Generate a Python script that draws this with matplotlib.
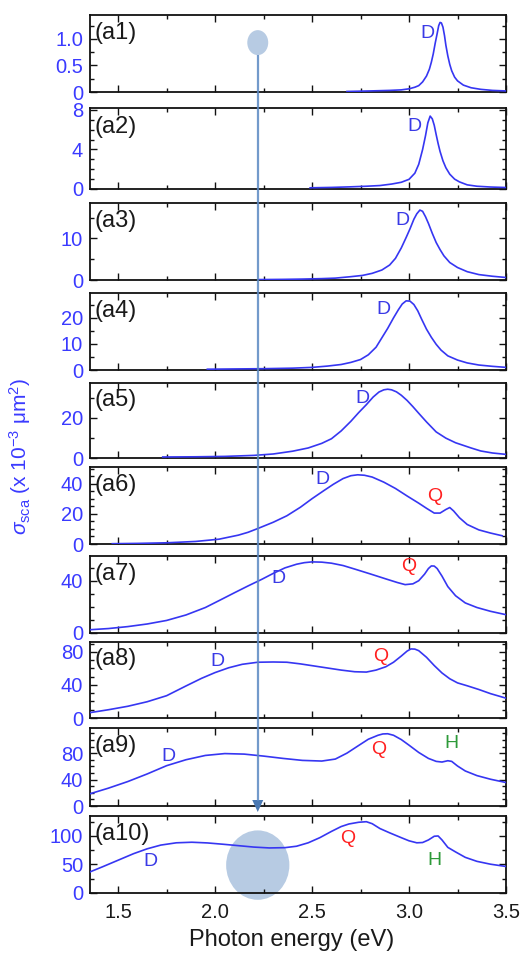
import matplotlib
matplotlib.use("Agg")
import matplotlib.pyplot as plt
from matplotlib.patches import Ellipse, Polygon
from matplotlib.ticker import MultipleLocator, FixedLocator

plt.rcParams['font.family'] = ['Liberation Sans', 'DejaVu Sans']
plt.rcParams['mathtext.fontset'] = 'custom'
plt.rcParams['mathtext.rm'] = 'Liberation Sans'
plt.rcParams['mathtext.it'] = 'Liberation Sans:italic'

# ---------------- data ----------------
a1_E = [2.68, 2.80, 2.90, 2.96, 3.00, 3.03, 3.05, 3.07, 3.09, 3.105, 3.115, 3.125, 3.135, 3.145, 3.153, 3.16, 3.167, 3.175, 3.183, 3.19, 3.20, 3.21, 3.22, 3.235, 3.25, 3.28, 3.32, 3.37, 3.43, 3.50]
a1_v = [0.01, 0.02, 0.03, 0.04, 0.06, 0.09, 0.12, 0.19, 0.30, 0.43, 0.56, 0.72, 0.92, 1.10, 1.25, 1.31, 1.30, 1.22, 1.06, 0.88, 0.68, 0.52, 0.40, 0.28, 0.21, 0.13, 0.08, 0.05, 0.03, 0.02]

a2_E = [2.49, 2.60, 2.70, 2.78, 2.85, 2.91, 2.96, 3.00, 3.03, 3.05, 3.07, 3.085, 3.097, 3.109, 3.12, 3.13, 3.14, 3.15, 3.16, 3.175, 3.19, 3.21, 3.235, 3.26, 3.30, 3.35, 3.42, 3.50]
a2_v = [0.12, 0.16, 0.22, 0.28, 0.35, 0.50, 0.68, 0.98, 1.6, 2.5, 4.0, 5.4, 6.7, 7.38, 7.1, 6.45, 5.5, 4.6, 3.8, 2.85, 2.15, 1.5, 1.0, 0.72, 0.42, 0.28, 0.2, 0.15]

a3_E = [2.23, 2.35, 2.45, 2.55, 2.62, 2.70, 2.76, 2.81, 2.86, 2.90, 2.93, 2.96, 2.985, 3.005, 3.025, 3.04, 3.056, 3.07, 3.085, 3.10, 3.12, 3.14, 3.16, 3.18, 3.21, 3.25, 3.30, 3.36, 3.43, 3.50]
a3_v = [0.1, 0.15, 0.22, 0.33, 0.45, 0.8, 1.1, 1.6, 2.4, 3.6, 5.2, 7.7, 10.2, 12.3, 14.6, 15.9, 16.8, 16.5, 15.2, 13.6, 11.2, 9.0, 7.3, 5.8, 4.2, 3.0, 2.0, 1.3, 0.9, 0.6]

a4_E = [1.96, 2.10, 2.25, 2.40, 2.50, 2.58, 2.65, 2.70, 2.75, 2.79, 2.83, 2.86, 2.89, 2.92, 2.945, 2.965, 2.985, 3.005, 3.025, 3.045, 3.065, 3.09, 3.115, 3.14, 3.165, 3.20, 3.25, 3.30, 3.36, 3.43, 3.50]
a4_v = [0.3, 0.4, 0.5, 0.7, 1.0, 1.5, 2.1, 2.9, 4.0, 5.8, 8.7, 12.3, 15.9, 19.9, 23.0, 25.2, 26.4, 26.3, 25.0, 22.6, 19.4, 15.6, 12.5, 9.8, 7.6, 5.4, 3.8, 2.7, 1.9, 1.4, 1.0]

a5_E = [1.73, 1.90, 2.05, 2.20, 2.30, 2.40, 2.48, 2.55, 2.60, 2.65, 2.70, 2.74, 2.78, 2.815, 2.845, 2.87, 2.89, 2.91, 2.935, 2.96, 2.99, 3.02, 3.05, 3.09, 3.14, 3.19, 3.24, 3.28, 3.32, 3.37, 3.43, 3.50]
a5_v = [0.5, 0.6, 0.8, 1.3, 2.0, 3.4, 5.0, 7.3, 9.6, 13.5, 18.3, 22.6, 26.6, 30.4, 32.9, 34.0, 34.3, 34.0, 33.0, 31.3, 28.7, 25.6, 22.3, 18.0, 13.0, 9.9, 7.6, 6.3, 5.0, 3.5, 2.5, 1.8]

a6_E = [1.47, 1.60, 1.75, 1.90, 2.02, 2.12, 2.17, 2.22, 2.30, 2.37, 2.44, 2.50, 2.56, 2.61, 2.66, 2.70, 2.735, 2.77, 2.81, 2.87, 2.93, 2.99, 3.05, 3.09, 3.13, 3.16, 3.19, 3.21, 3.23, 3.26, 3.30, 3.36, 3.42, 3.48]
a6_v = [0.2, 0.4, 0.8, 1.7, 3.2, 5.9, 7.8, 10.3, 14.5, 18.8, 24.5, 30.2, 35.5, 39.8, 43.6, 45.5, 46.1, 45.8, 44.6, 41.2, 37.0, 32.0, 27.2, 23.8, 20.6, 20.6, 23.0, 24.3, 22.0, 17.5, 13.0, 9.4, 7.3, 5.5]

a7_E = [1.355, 1.45, 1.55, 1.65, 1.75, 1.85, 1.95, 2.03, 2.10, 2.17, 2.24, 2.30, 2.36, 2.42, 2.46, 2.50, 2.55, 2.60, 2.66, 2.72, 2.80, 2.88, 2.94, 2.98, 3.02, 3.05, 3.08, 3.10, 3.115, 3.13, 3.145, 3.17, 3.20, 3.24, 3.29, 3.35, 3.42, 3.50]
a7_v = [2.5, 3.4, 4.9, 6.9, 9.6, 13.8, 19.5, 25.5, 30.8, 36.0, 41.0, 45.6, 49.8, 52.6, 53.8, 54.4, 54.2, 53.4, 51.6, 48.9, 45.2, 41.4, 38.6, 37.0, 37.6, 40.0, 45.0, 49.3, 51.3, 51.2, 49.3, 43.5, 35.5, 28.5, 23.0, 19.5, 16.6, 14.0]

a8_E = [1.355, 1.45, 1.55, 1.65, 1.75, 1.85, 1.93, 2.00, 2.07, 2.14, 2.22, 2.30, 2.37, 2.44, 2.51, 2.58, 2.65, 2.72, 2.78, 2.83, 2.88, 2.92, 2.96, 2.99, 3.01, 3.03, 3.05, 3.09, 3.13, 3.17, 3.21, 3.25, 3.30, 3.36, 3.42, 3.50]
a8_v = [6.5, 10.0, 14.2, 19.7, 27.0, 38.8, 48.0, 55.0, 60.8, 65.0, 67.5, 67.8, 67.5, 65.5, 63.0, 60.5, 58.0, 56.0, 55.6, 58.0, 62.0, 67.5, 75.0, 81.0, 83.6, 83.4, 81.5, 73.5, 63.5, 54.5, 47.5, 42.5, 39.0, 34.5, 29.5, 24.0]

a9_E = [1.355, 1.45, 1.55, 1.65, 1.75, 1.85, 1.95, 2.05, 2.15, 2.25, 2.35, 2.45, 2.55, 2.62, 2.68, 2.74, 2.79, 2.84, 2.865, 2.89, 2.92, 2.96, 3.00, 3.05, 3.10, 3.14, 3.17, 3.20, 3.22, 3.25, 3.29, 3.35, 3.42, 3.50]
a9_v = [18.5, 27.0, 37.0, 48.5, 61.0, 70.0, 76.5, 79.3, 78.5, 75.5, 72.0, 69.0, 68.0, 71.0, 80.0, 91.5, 101.0, 107.0, 109.0, 109.3, 107.0, 100.5, 92.0, 81.0, 72.0, 67.5, 66.5, 68.5, 67.5, 60.5, 53.0, 46.0, 40.5, 35.5]

a10_E = [1.355, 1.42, 1.50, 1.58, 1.65, 1.72, 1.80, 1.88, 1.96, 2.04, 2.12, 2.20, 2.28, 2.36, 2.42, 2.48, 2.54, 2.60, 2.65, 2.69, 2.74, 2.78, 2.81, 2.85, 2.90, 2.96, 3.00, 3.04, 3.07, 3.10, 3.13, 3.15, 3.17, 3.20, 3.24, 3.29, 3.35, 3.42, 3.50]
a10_v = [37, 46, 57.5, 69, 77.5, 84, 88, 89, 87.8, 85.5, 83, 80.5, 79, 79.5, 82, 88, 97, 108, 116.5, 121, 124, 125, 121.5, 113, 105.5, 97, 91.5, 88, 88.5, 93, 99.5, 100, 93, 80, 72, 62.5, 55.5, 50.5, 46.5]

panel_names = ["(a1)", "(a2)", "(a3)", "(a4)", "(a5)", "(a6)", "(a7)", "(a8)", "(a9)", "(a10)"]
x_ticks = [1.5, 2.0, 2.5, 3.0, 3.5]
x_tick_labels = ["1.5", "2.0", "2.5", "3.0", "3.5"]
y_ticks = [[0, 0.5, 1.0], [0, 4, 8], [0, 10], [0, 10, 20], [0, 20], [0, 20, 40],
           [0, 40], [0, 40, 80], [0, 40, 80], [0, 50, 100]]
y_tick_labels = [["0", "0.5", "1.0"], ["0", "4", "8"], ["0", "10"], ["0", "10", "20"],
                 ["0", "20"], ["0", "20", "40"], ["0", "40"], ["0", "40", "80"],
                 ["0", "40", "80"], ["0", "50", "100"]]
marker_energy = 2.22

series = [(a1_E, a1_v), (a2_E, a2_v), (a3_E, a3_v), (a4_E, a4_v), (a5_E, a5_v),
          (a6_E, a6_v), (a7_E, a7_v), (a8_E, a8_v), (a9_E, a9_v), (a10_E, a10_v)]

# ---------------- layout / styling ----------------
W, H = 522, 961
fig = plt.figure(figsize=(W / 100, H / 100), dpi=100)

panel_px = [(15, 92), (108, 189), (203, 280), (293, 370), (383, 458),
            (467, 544), (556, 633), (642, 718), (728, 806), (816, 893)]
ylims = [1.45, 8.2, 18.5, 29.4, 37.4, 51.3, 58.9, 92.0, 118.0, 135.0]
yminor = [0.25, 1, 5, 5, 10, 5, 10, 10, 10, 25]
left_px, right_px = 90, 506

curve_c = '#3636f2'
tick_c = '#3a3aff'
D_c, Q_c, H_c = '#3a3ae6', '#ff2020', '#2e9a3a'

# resonance labels: (panel index, text, x, y, color)
mode_labels = [
    (0, "D", 3.095, 1.11, D_c), (1, "D", 3.026, 6.3, D_c), (2, "D", 2.966, 14.4, D_c),
    (3, "D", 2.868, 23.2, D_c), (4, "D", 2.759, 29.7, D_c),
    (5, "D", 2.553, 42.7, D_c), (5, "Q", 3.13, 31.5, Q_c),
    (6, "D", 2.328, 41.8, D_c), (6, "Q", 3.0, 50.7, Q_c),
    (7, "D", 2.01, 68.0, D_c), (7, "Q", 2.854, 75.0, Q_c),
    (8, "D", 1.76, 74.7, D_c), (8, "Q", 2.845, 84.9, Q_c), (8, "H", 3.219, 95.0, H_c),
    (9, "D", 1.665, 54.7, D_c), (9, "Q", 2.682, 96.0, Q_c), (9, "H", 3.13, 56.4, H_c),
]

axes = []
for i, ((top, bot), (E, v)) in enumerate(zip(panel_px, series)):
    ax = fig.add_axes([left_px / W, 1 - bot / H, (right_px - left_px) / W, (bot - top) / H])
    axes.append(ax)
    ax.plot(E, v, color=curve_c, lw=1.2, zorder=3, solid_joinstyle='round')
    ax.set_xlim(1.355, 3.5)
    ax.set_ylim(0, ylims[i])
    ax.xaxis.set_major_locator(FixedLocator(x_ticks))
    ax.xaxis.set_minor_locator(MultipleLocator(0.25))
    ax.yaxis.set_major_locator(FixedLocator(y_ticks[i]))
    ax.yaxis.set_minor_locator(MultipleLocator(yminor[i]))
    ax.set_yticklabels(y_tick_labels[i])
    if i == 9:
        ax.set_xticklabels(x_tick_labels)
    else:
        ax.set_xticklabels([])
    ax.tick_params(which='both', direction='in', top=True, right=True, width=1.0, colors='#111111')
    ax.tick_params(which='major', length=5)
    ax.tick_params(which='minor', length=3)
    ax.tick_params(axis='y', which='major', labelsize=14.5, labelcolor=tick_c, pad=5)
    ax.tick_params(axis='x', which='major', labelsize=14.5, labelcolor='#1a1a1a', pad=7)
    for s in ax.spines.values():
        s.set_linewidth(1.3)
        s.set_color('#111111')
    ax.text(0.012, 0.77, panel_names[i], transform=ax.transAxes, ha='left', va='center',
            fontsize=17, color='#1a1a1a', zorder=5)

for (pi, txt, x, y, c) in mode_labels:
    axes[pi].text(x, y, txt, ha='center', va='center', fontsize=14, color=c, zorder=5)

# marker ellipses
axes[0].add_patch(Ellipse((marker_energy, 0.93), 0.108, 0.47, facecolor='#b7cbe3',
                          edgecolor='none', zorder=2, clip_on=False))
axes[9].add_patch(Ellipse((marker_energy, 48.9), 0.326, 121.7, facecolor='#b7cbe3',
                          edgecolor='none', zorder=1, clip_on=False))

# overlay for the vertical arrow
ov = fig.add_axes([0, 0, 1, 1], zorder=10)
ov.set_xlim(0, W)
ov.set_ylim(0, H)
ov.axis('off')
ov.patch.set_alpha(0)
xm = axes[0].transData.transform((marker_energy, 0))[0] * W / fig.bbox.width
ov.plot([xm, xm], [H - 55, H - 801], color='#5b88c2', lw=1.6, alpha=0.85, solid_capstyle='butt')
ov.add_patch(Polygon([[xm - 5.5, H - 800], [xm + 5.5, H - 800], [xm, H - 812]],
                     closed=True, facecolor='#4a78b2', edgecolor='none'))

fig.text(292 / W, 1 - 940 / H, "Photon energy (eV)", ha='center', va='center', fontsize=17,
         color='#1a1a1a')
fig.text(20 / W, 1 - 456 / H, r"$\sigma_{\mathrm{sca}}$ (x 10$^{-3}$ μm$^{2}$)", rotation=90,
         ha='center', va='center', fontsize=15, color=tick_c)

fig.savefig("out.png", dpi=100)
